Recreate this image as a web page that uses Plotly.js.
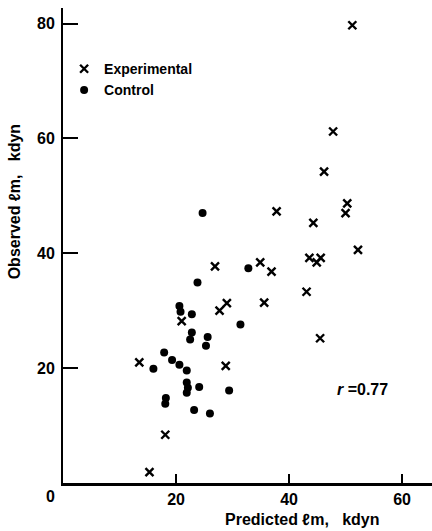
<!DOCTYPE html>
<html>
<head>
<meta charset="utf-8">
<script src="https://cdn.plot.ly/plotly-3.0.1.min.js"></script>
<style>html,body{margin:0;padding:0;background:#fff;}#chart{width:432px;height:531px;}</style>
</head>
<body>
<div id="chart"></div>
<script>
// Experimental (x markers)
var expPredicted = [51.2, 47.8, 46.2, 50.3, 50.0, 37.8, 44.3, 52.2, 43.6, 45.6, 44.9, 34.9, 26.9, 36.9, 43.1, 35.6, 29.0, 27.7, 21.0, 45.5, 13.5, 28.8, 18.1, 15.3];
var expObserved  = [79.7, 61.2, 54.2, 48.7, 47.0, 47.3, 45.3, 40.6, 39.2, 39.2, 38.4, 38.4, 37.7, 36.8, 33.3, 31.4, 31.3, 30.0, 28.2, 25.2, 21.0, 20.4, 8.4, 1.9];
// Control (filled dots)
var ctrlPredicted = [24.7, 32.8, 23.8, 20.6, 20.8, 22.8, 31.4, 22.8, 22.5, 25.6, 25.3, 17.9, 16.0, 19.3, 20.6, 21.9, 21.9, 22.1, 24.1, 21.9, 29.4, 18.2, 18.1, 23.2, 26.0];
var ctrlObserved  = [47.0, 37.4, 34.9, 30.8, 29.8, 29.4, 27.6, 26.2, 25.0, 25.4, 23.9, 22.7, 19.9, 21.4, 20.6, 19.6, 17.5, 16.6, 16.7, 15.7, 16.1, 14.8, 13.8, 12.7, 12.1];
var xTickVals = [20, 40, 60];
var yTickVals = [20, 40, 60, 80];
var seriesNames = ["Experimental", "Control"];
var rText = "<i>r</i> =0.77";

var FONT = "Liberation Sans, Arial, sans-serif";

var traces = [
  {
    type: "scatter", mode: "markers", name: seriesNames[0],
    x: expPredicted, y: expObserved,
    marker: {symbol: "x-thin", size: 8, color: "#000", line: {color: "#000", width: 2.4}},
    cliponaxis: false
  },
  {
    type: "scatter", mode: "markers", name: seriesNames[1],
    x: ctrlPredicted, y: ctrlObserved,
    marker: {symbol: "circle", size: 8, color: "#000"},
    cliponaxis: false
  }
];

var layout = {
  width: 432, height: 531,
  margin: {l: 63, r: 0, t: 8, b: 48},
  paper_bgcolor: "#fff", plot_bgcolor: "#fff",
  font: {family: FONT, size: 15, color: "#000", weight: "bold"},
  showlegend: true,
  legend: {
    x: 0.003, y: 0.905, xanchor: "left", yanchor: "top",
    bgcolor: "rgba(0,0,0,0)", borderwidth: 0,
    font: {family: FONT, size: 14, color: "#000", weight: "bold"},
    tracegroupgap: 0, itemwidth: 30
  },
  xaxis: {
    range: [0, 65.3], showgrid: false, zeroline: false,
    showline: true, linecolor: "#000", linewidth: 2.5,
    ticks: "inside", ticklen: 9, tickwidth: 1.5, tickcolor: "#000",
    tickmode: "array", tickvals: xTickVals,
    tickfont: {family: FONT, size: 16, color: "#000", weight: "bold"}
  },
  yaxis: {
    range: [0, 82.7], showgrid: false, zeroline: false,
    showline: true, linecolor: "#000", linewidth: 2,
    ticks: "inside", ticklen: 15, tickwidth: 2, tickcolor: "#000",
    tickmode: "array", tickvals: yTickVals,
    ticklabelstandoff: 3,
    tickfont: {family: FONT, size: 16, color: "#000", weight: "bold"}
  },
  annotations: [
    {xref: "paper", yref: "paper", x: 0.65, y: -0.077, xanchor: "center", yanchor: "middle",
     text: "Predicted ℓm,   kdyn", showarrow: false,
     font: {family: FONT, size: 16, color: "#000", weight: "bold"}},
    {xref: "paper", yref: "paper", x: -0.1328, y: 0.593, xanchor: "center", yanchor: "middle",
     text: "Observed ℓm,   kdyn", textangle: -90, showarrow: false,
     font: {family: FONT, size: 16, color: "#000", weight: "bold"}},
    {xref: "paper", yref: "paper", x: -0.035, y: -0.028, xanchor: "center", yanchor: "middle",
     text: "0", showarrow: false,
     font: {family: FONT, size: 16, color: "#000", weight: "bold"}},
    {xref: "x", yref: "y", x: 48.1, y: 16.3, xanchor: "left", yanchor: "middle",
     text: rText, showarrow: false,
     font: {family: FONT, size: 16, color: "#000", weight: "bold"}}
  ]
};

Plotly.newPlot("chart", traces, layout, {displayModeBar: false, staticPlot: true});
</script>
</body>
</html>
